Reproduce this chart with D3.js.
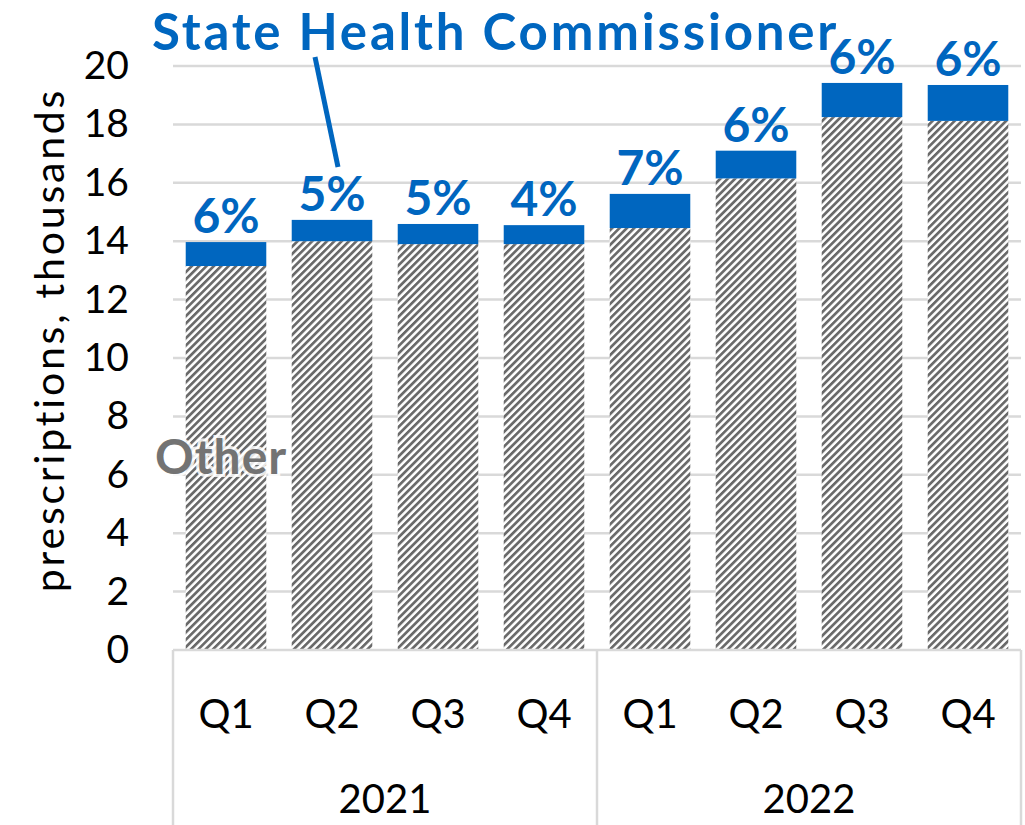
<!DOCTYPE html>
<html>
<head>
<meta charset="utf-8">
<script src="https://cdn.jsdelivr.net/npm/d3@7"></script>
<style>
  body { margin: 0; background: #fff; }
  svg text { font-family: Lato, "Noto Sans", sans-serif; }
</style>
</head>
<body>
<div id="chart"></div>
<script>
// chart values (thousands of prescriptions)
var quarters = ['Q1', 'Q2', 'Q3', 'Q4', 'Q1', 'Q2', 'Q3', 'Q4'];
var years = ['2021', '2022'];
var otherVals = [13.15, 14.0, 13.9, 13.9, 14.45, 16.15, 18.25, 18.12];
var shcVals = [0.82, 0.73, 0.69, 0.65, 1.17, 0.95, 1.17, 1.23];
var pctLabels = ['6%', '5%', '5%', '4%', '7%', '6%', '6%', '6%'];
var yTicks = [0, 2, 4, 6, 8, 10, 12, 14, 16, 18, 20];

var width = 1025, height = 825;
var plotL = 173, plotR = 1021, plotT = 66, plotB = 650;
var blue = '#0066bf', gridColor = '#d9d9d9';

var svg = d3.select('#chart')
  .append('svg')
  .attr('width', width)
  .attr('height', height);

// hatch for the "Other" part of each bar
var pat = svg.append('defs').append('pattern')
  .attr('id', 'hatch')
  .attr('patternUnits', 'userSpaceOnUse')
  .attr('width', 5.2)
  .attr('height', 5.2)
  .attr('patternTransform', 'rotate(45)');
pat.append('rect').attr('width', 5.2).attr('height', 5.2).attr('fill', '#fff');
pat.append('rect').attr('width', 2.7).attr('height', 5.2).attr('fill', '#6a6a6a');

var keys = d3.range(quarters.length);
var x = d3.scaleBand().domain(keys).range([plotL, plotR]).paddingInner(0.24).paddingOuter(0.12);
var y = d3.scaleLinear().domain([0, 20]).range([plotB, plotT]);

// gridlines
svg.append('g').selectAll('line')
  .data(yTicks.slice(1))
  .join('line')
  .attr('x1', plotL).attr('x2', plotR)
  .attr('y1', d => y(d)).attr('y2', d => y(d))
  .attr('stroke', gridColor).attr('stroke-width', 2.5);

// y axis labels
var yAxis = d3.axisLeft(y).tickValues(yTicks).tickSize(0).tickPadding(0);
var ya = svg.append('g').attr('transform', 'translate(129,0)').call(yAxis);
ya.select('.domain').remove();
ya.selectAll('text')
  .attr('font-size', 39)
  .attr('fill', '#000')
  .attr('font-family', 'Lato, "Noto Sans", sans-serif');

svg.append('text')
  .attr('transform', 'translate(64,340) rotate(-90)')
  .attr('text-anchor', 'middle')
  .attr('font-size', 41)
  .attr('letter-spacing', 2.8)
  .attr('fill', '#000')
  .text('prescriptions, thousands');

// bars
var bars = svg.append('g');
bars.selectAll('rect.other')
  .data(keys)
  .join('rect')
  .attr('class', 'other')
  .attr('x', i => x(i))
  .attr('width', x.bandwidth())
  .attr('y', i => y(otherVals[i]))
  .attr('height', i => y(0) - y(otherVals[i]))
  .attr('fill', 'url(#hatch)');

bars.selectAll('rect.shc')
  .data(keys)
  .join('rect')
  .attr('class', 'shc')
  .attr('x', i => x(i))
  .attr('width', x.bandwidth())
  .attr('y', i => y(otherVals[i] + shcVals[i]))
  .attr('height', i => y(otherVals[i]) - y(otherVals[i] + shcVals[i]))
  .attr('fill', blue);

bars.selectAll('text.pct')
  .data(keys)
  .join('text')
  .attr('class', 'pct')
  .attr('x', i => x(i) + x.bandwidth() / 2)
  .attr('y', i => y(otherVals[i] + shcVals[i]) - 9)
  .attr('text-anchor', 'middle')
  .attr('font-size', 48)
  .attr('font-weight', 'bold')
  .attr('fill', blue)
  .text(i => pctLabels[i]);

// category axis: baseline + group boxes
var ax = svg.append('g').attr('stroke', gridColor).attr('stroke-width', 2.5);
ax.append('line').attr('x1', plotL).attr('x2', plotR).attr('y1', plotB).attr('y2', plotB);
var mid = x(4) - (x.step() - x.bandwidth()) / 2;
[plotL, mid, plotR].forEach(function(px) {
  ax.append('line').attr('x1', px).attr('x2', px).attr('y1', plotB).attr('y2', height);
});

svg.append('g').selectAll('text')
  .data(keys)
  .join('text')
  .attr('x', i => x(i) + x.bandwidth() / 2)
  .attr('y', 728)
  .attr('text-anchor', 'middle')
  .attr('font-size', 40)
  .attr('fill', '#000')
  .text(i => quarters[i]);

svg.append('g').selectAll('text')
  .data(years)
  .join('text')
  .attr('x', (d, j) => j === 0 ? (plotL + mid) / 2 : (mid + plotR) / 2)
  .attr('y', 813)
  .attr('text-anchor', 'middle')
  .attr('font-size', 40)
  .attr('fill', '#000')
  .text(d => d);

// series labels
svg.append('line')
  .attr('x1', 315).attr('y1', 57)
  .attr('x2', 338).attr('y2', 167)
  .attr('stroke', blue).attr('stroke-width', 5);

svg.append('text')
  .attr('x', 152).attr('y', 50)
  .attr('font-size', 51)
  .attr('font-weight', 'bold')
  .attr('letter-spacing', 2.8)
  .attr('fill', blue)
  .text('State Health Commissioner');

svg.append('text')
  .attr('x', 155).attr('y', 474)
  .attr('font-size', 48)
  .attr('font-weight', 'bold')
  .attr('letter-spacing', 1)
  .attr('fill', '#737373')
  .attr('stroke', '#fff')
  .attr('stroke-width', 6)
  .attr('stroke-opacity', 0.85)
  .attr('paint-order', 'stroke')
  .text('Other');
</script>
</body>
</html>
